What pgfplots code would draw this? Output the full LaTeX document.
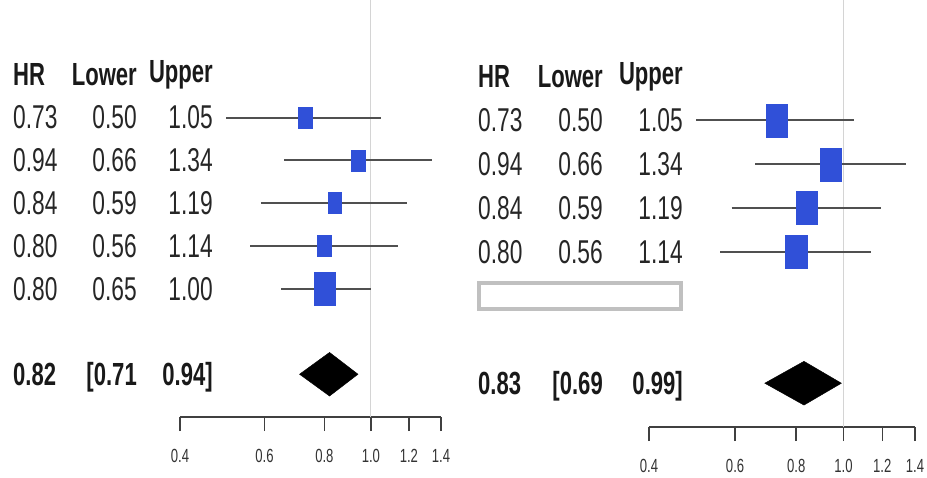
\documentclass[border=0pt]{standalone}
\usepackage{fontspec}
\setmainfont[FakeStretch=0.69]{Liberation Sans}
\usepackage{pgfplots}
\pgfplotsset{compat=1.18}
\definecolor{boxblue}{HTML}{3050D8}
\definecolor{ciline}{HTML}{505050}
\definecolor{refline}{HTML}{D4D4D4}
\definecolor{hlgray}{HTML}{C0C0C0}
\tikzset{
  val/.style={font=\fontsize{33}{38}\selectfont, inner sep=0pt, text=black!85},
  hdr/.style={font=\fontsize{32}{38}\selectfont\bfseries, inner sep=0pt, text=black!90},
}
\begin{document}
\begin{tikzpicture}
\path[use as bounding box] (0,0) rectangle (927pt,477pt);
% ---------------- left panel ----------------
\begin{axis}[
    at={(180pt,60pt)}, anchor=south west, width=261pt, height=417pt,
    scale only axis,
    xmode=log,
    xmin=0.4, xmax=1.4,
    ymin=0, ymax=9.75,
    enlarge x limits=false,
    axis x line*=bottom,
    axis y line=none,
    clip=false,
    xtick={0.4,0.6,0.8,1.0,1.2,1.4},
    xticklabels={0.4,0.6,0.8,1.0,1.2,1.4},
    minor xtick={},
    tick align=outside,
    major tick length=14pt,
    every tick/.style={black!75, line width=1.4pt},
    axis line style={black!75, line width=1.4pt},
    xticklabel style={font=\fontsize{19}{21}\selectfont, black!80, yshift=-15pt},
]
\addplot[refline, line width=1pt] coordinates {(1,0) (1,9.75)};
% CI lines
\addplot[ciline, line width=1.9pt] coordinates {(0.50,7) (1.05,7)};
\addplot[ciline, line width=1.9pt] coordinates {(0.66,6) (1.34,6)};
\addplot[ciline, line width=1.9pt] coordinates {(0.59,5) (1.19,5)};
\addplot[ciline, line width=1.9pt] coordinates {(0.56,4) (1.14,4)};
\addplot[ciline, line width=1.9pt] coordinates {(0.65,3) (1.00,3)};
% boxes
\addplot[only marks, mark=square*, mark size=10.5pt, mark options={xscale=0.64, fill=boxblue, draw=boxblue}]
  coordinates {(0.73,7) (0.94,6) (0.84,5) (0.80,4)};
\addplot[only marks, mark=square*, mark size=16.5pt, mark options={xscale=0.64, fill=boxblue, draw=boxblue}]
  coordinates {(0.80,3)};
% summary diamond
\addplot[fill=black, draw=black] coordinates {(0.71,1) (0.82,1.51) (0.94,1) (0.82,0.49)} -- cycle;
% text columns
\node[hdr, anchor=west] at ([xshift=-167pt]axis cs:0.4,8) {HR};
\node[hdr, anchor=east] at ([xshift=-43pt]axis cs:0.4,8) {Lower};
\node[hdr, anchor=east] at ([xshift=33pt]axis cs:0.4,8) {Upper};
\node[val, anchor=west] at ([xshift=-167pt]axis cs:0.4,7) {0.73};
\node[val, anchor=east] at ([xshift=-43pt]axis cs:0.4,7) {0.50};
\node[val, anchor=east] at ([xshift=33pt]axis cs:0.4,7) {1.05};
\node[val, anchor=west] at ([xshift=-167pt]axis cs:0.4,6) {0.94};
\node[val, anchor=east] at ([xshift=-43pt]axis cs:0.4,6) {0.66};
\node[val, anchor=east] at ([xshift=33pt]axis cs:0.4,6) {1.34};
\node[val, anchor=west] at ([xshift=-167pt]axis cs:0.4,5) {0.84};
\node[val, anchor=east] at ([xshift=-43pt]axis cs:0.4,5) {0.59};
\node[val, anchor=east] at ([xshift=33pt]axis cs:0.4,5) {1.19};
\node[val, anchor=west] at ([xshift=-167pt]axis cs:0.4,4) {0.80};
\node[val, anchor=east] at ([xshift=-43pt]axis cs:0.4,4) {0.56};
\node[val, anchor=east] at ([xshift=33pt]axis cs:0.4,4) {1.14};
\node[val, anchor=west] at ([xshift=-167pt]axis cs:0.4,3) {0.80};
\node[val, anchor=east] at ([xshift=-43pt]axis cs:0.4,3) {0.65};
\node[val, anchor=east] at ([xshift=33pt]axis cs:0.4,3) {1.00};
\node[hdr, anchor=base west] at ([xshift=-167pt,yshift=-11.5pt]axis cs:0.4,1) {0.82};
\node[hdr, anchor=base east] at ([xshift=-43pt,yshift=-11.5pt]axis cs:0.4,1) {[0.71};
\node[hdr, anchor=base east] at ([xshift=33pt,yshift=-11.5pt]axis cs:0.4,1) {0.94]};
\end{axis}
% ---------------- right panel ----------------
\begin{axis}[
    at={(649pt,50pt)}, anchor=south west, width=266pt, height=427pt,
    scale only axis,
    xmode=log,
    xmin=0.4, xmax=1.4,
    ymin=0, ymax=9.75,
    enlarge x limits=false,
    axis x line*=bottom,
    axis y line=none,
    clip=false,
    xtick={0.4,0.6,0.8,1.0,1.2,1.4},
    xticklabels={0.4,0.6,0.8,1.0,1.2,1.4},
    minor xtick={},
    tick align=outside,
    major tick length=14pt,
    every tick/.style={black!75, line width=1.4pt},
    axis line style={black!75, line width=1.4pt},
    xticklabel style={font=\fontsize{19}{21}\selectfont, black!80, yshift=-15pt},
]
\addplot[refline, line width=1pt] coordinates {(1,0) (1,9.75)};
\addplot[ciline, line width=1.9pt] coordinates {(0.50,7) (1.05,7)};
\addplot[ciline, line width=1.9pt] coordinates {(0.66,6) (1.34,6)};
\addplot[ciline, line width=1.9pt] coordinates {(0.59,5) (1.19,5)};
\addplot[ciline, line width=1.9pt] coordinates {(0.56,4) (1.14,4)};
\addplot[only marks, mark=square*, mark size=16.5pt, mark options={xscale=0.64, fill=boxblue, draw=boxblue}]
  coordinates {(0.73,7) (0.94,6) (0.84,5) (0.80,4)};
\addplot[fill=black, draw=black] coordinates {(0.69,1) (0.83,1.5) (0.99,1) (0.83,0.5)} -- cycle;
\node[hdr, anchor=west] at ([xshift=-171pt]axis cs:0.4,8) {HR};
\node[hdr, anchor=east] at ([xshift=-46pt]axis cs:0.4,8) {Lower};
\node[hdr, anchor=east] at ([xshift=34pt]axis cs:0.4,8) {Upper};
\node[val, anchor=west] at ([xshift=-171pt]axis cs:0.4,7) {0.73};
\node[val, anchor=east] at ([xshift=-46pt]axis cs:0.4,7) {0.50};
\node[val, anchor=east] at ([xshift=34pt]axis cs:0.4,7) {1.05};
\node[val, anchor=west] at ([xshift=-171pt]axis cs:0.4,6) {0.94};
\node[val, anchor=east] at ([xshift=-46pt]axis cs:0.4,6) {0.66};
\node[val, anchor=east] at ([xshift=34pt]axis cs:0.4,6) {1.34};
\node[val, anchor=west] at ([xshift=-171pt]axis cs:0.4,5) {0.84};
\node[val, anchor=east] at ([xshift=-46pt]axis cs:0.4,5) {0.59};
\node[val, anchor=east] at ([xshift=34pt]axis cs:0.4,5) {1.19};
\node[val, anchor=west] at ([xshift=-171pt]axis cs:0.4,4) {0.80};
\node[val, anchor=east] at ([xshift=-46pt]axis cs:0.4,4) {0.56};
\node[val, anchor=east] at ([xshift=34pt]axis cs:0.4,4) {1.14};
\draw[hlgray, line width=3.5pt] ([xshift=-170pt]axis cs:0.4,3.29) rectangle ([xshift=32pt]axis cs:0.4,2.69);
\node[hdr, anchor=base west] at ([xshift=-171pt,yshift=-11.5pt]axis cs:0.4,1) {0.83};
\node[hdr, anchor=base east] at ([xshift=-46pt,yshift=-11.5pt]axis cs:0.4,1) {[0.69};
\node[hdr, anchor=base east] at ([xshift=34pt,yshift=-11.5pt]axis cs:0.4,1) {0.99]};
\end{axis}
\end{tikzpicture}
\end{document}
